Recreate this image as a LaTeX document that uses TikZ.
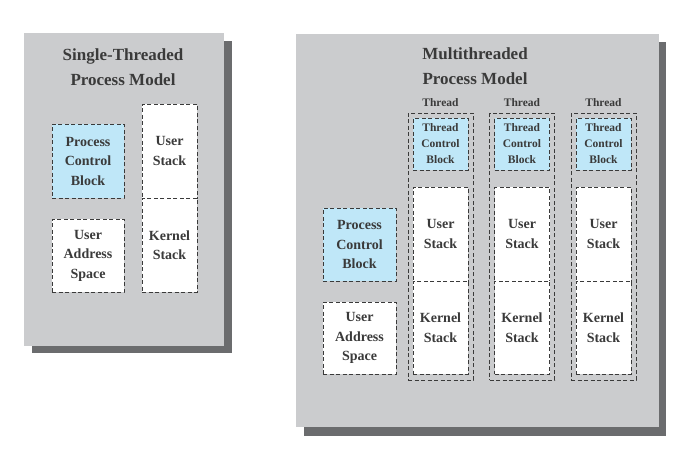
\documentclass[tikz,border=0pt]{standalone}
\usepackage{fontspec}
\setmainfont{Liberation Serif}
\usetikzlibrary{positioning}
\definecolor{panelgray}{HTML}{CBCCCE}
\definecolor{shadowgray}{HTML}{6B6C6E}
\definecolor{ctlblue}{HTML}{BFE7F8}
\definecolor{inkgray}{HTML}{3A3A3A}
\tikzset{panel/.style={fill=panelgray},
  shadowbox/.style={fill=shadowgray},
  box/.style={draw=inkgray,line width=0.9pt,dash pattern=on 4pt off 2.5pt,fill=white,align=center,inner sep=0pt,text=inkgray,font=\bfseries\fontsize{14}{19.5}\selectfont},
  ctlbox/.style={box,fill=ctlblue},
  smalltext/.style={font=\bfseries\fontsize{11.5}{16}\selectfont},
  thbox/.style={draw=inkgray,line width=0.9pt,dash pattern=on 4pt off 2.5pt,minimum width=65pt,minimum height=267pt,inner sep=0pt},
  title/.style={align=center,text=inkgray,font=\bfseries\fontsize{17}{25}\selectfont}}

\begin{document}
\begin{tikzpicture}[x=1pt,y=-1pt]
\useasboundingbox (0,0) rectangle (680,469);
% single-threaded model
\fill[shadowbox] (32,41) rectangle (232,353);
\fill[panel] (24,33) rectangle (224,346);
\node[title] (ttlS) at (123,67) {Single-Threaded\\Process Model};
\node[ctlbox,minimum width=72pt,minimum height=74pt] (pcbS) at (88,161) {Process\\Control\\Block};
\node[box,minimum width=72pt,minimum height=73pt] (uasS) at (88,255.5) {User\\Address\\Space};
\node[box,minimum width=55pt,minimum height=94pt] (usS) at (169.5,151) {User\\Stack};
\node[box,minimum width=55pt,minimum height=94pt] (ksS) at (169.5,245) {Kernel\\Stack};

% multithreaded model
\fill[shadowbox] (304,42) rectangle (666,436);
\fill[panel] (296,34) rectangle (659,427);
\node[title] (ttlM) at (475,66) {Multithreaded\\Process Model};
\node[ctlbox,minimum width=73pt,minimum height=73pt] (pcbM) at (359.5,244.5) {Process\\Control\\Block};
\node[box,minimum width=73pt,minimum height=72pt] (uasM) at (359.5,338) {User\\Address\\Space};
\foreach \i/\x in {1/440.5,2/522,3/603.5}{
  \node[thbox] (th\i) at (\x,246.5) {};
  \node[smalltext,text=inkgray] (thl\i) at (\x,103) {Thread};
  \node[ctlbox,smalltext,minimum width=55pt,minimum height=52pt] (tcb\i) at (\x,144) {Thread\\Control\\Block};
  \node[box,minimum width=55pt,minimum height=94pt] (us\i) at (\x,234) {User\\Stack};
  \node[box,minimum width=55pt,minimum height=93pt] (ks\i) at (\x,327.5) {Kernel\\Stack};
}
\end{tikzpicture}
\end{document}
